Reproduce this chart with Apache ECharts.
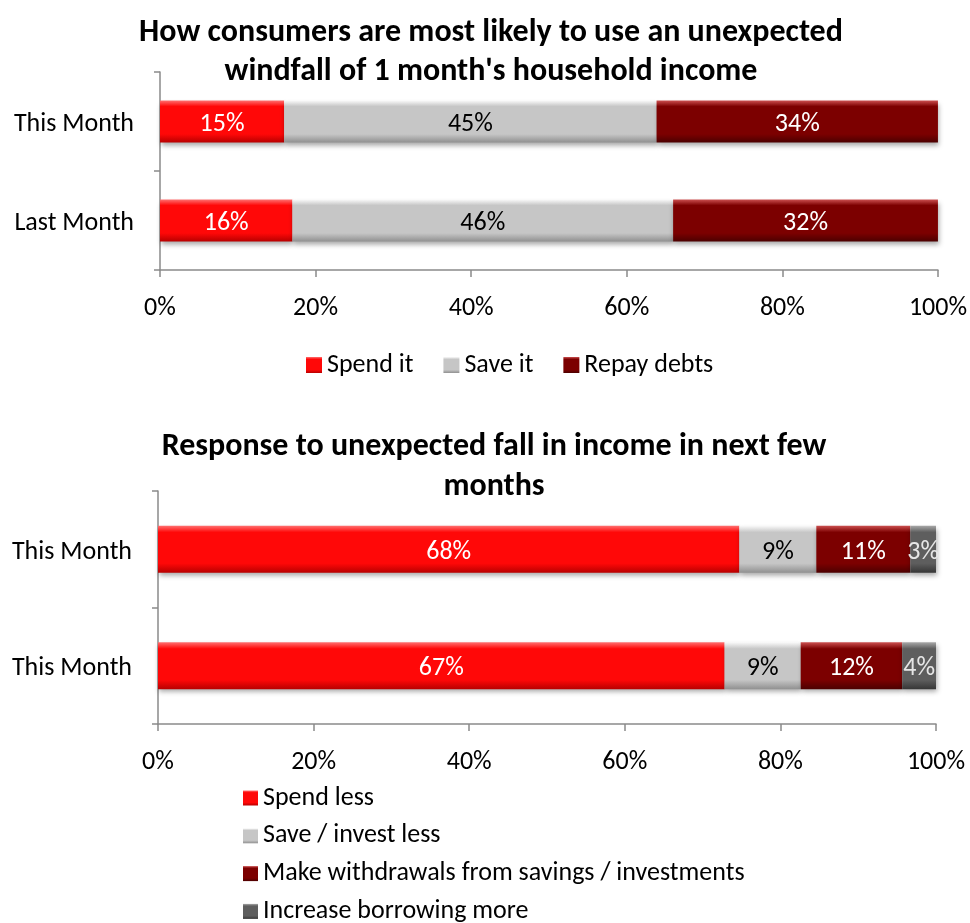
<!DOCTYPE html>
<html>
<head>
<meta charset="utf-8">
<script src="https://cdn.jsdelivr.net/npm/echarts@6/dist/echarts.min.js"></script>
<style>
  html, body { margin: 0; padding: 0; background: #fff; }
  #chart { width: 970px; height: 923px; }
</style>
</head>
<body>
<div id="chart"></div>
<script>
// Windfall usage (top panel)
const windfallRows = ['This Month', 'Last Month'];
const windfallNames = ['Spend it', 'Save it', 'Repay debts'];
const spendIt = [15, 16];
const saveIt = [45, 46];
const repayDebts = [34, 32];

// Response to a fall in income (bottom panel)
const fallRows = ['This Month', 'This Month'];
const fallNames = ['Spend less', 'Save / invest less', 'Make withdrawals from savings / investments', 'Increase borrowing more'];
const spendLess = [68, 67];
const saveLess = [9, 9];
const withdrawals = [11, 12];
const borrowMore = [3, 4];

const axisTicks = [0, 20, 40, 60, 80, 100];

const FONT = 'Carlito, Lato, "Open Sans", sans-serif';
const TEXT_SIZE = 26;

function grad(top, mid, bottom) {
  return new echarts.graphic.LinearGradient(0, 0, 0, 1, [
    { offset: 0, color: top },
    { offset: 0.14, color: mid },
    { offset: 0.8, color: mid },
    { offset: 1, color: bottom }
  ]);
}
const palette = {
  red: grad('#ff7070', '#ff0808', '#b80000'),
  gray: grad('#fafafa', '#c6c6c6', '#909090'),
  darkRed: grad('#cc5050', '#7c0000', '#4c0000'),
  darkGray: grad('#a8a8a8', '#5e5e5e', '#363636')
};

// Each segment's share of its row, so every bar fills 0–100%
function shares(seriesList) {
  const totals = seriesList[0].map((_, i) => seriesList.reduce((s, arr) => s + arr[i], 0));
  return seriesList.map(arr => arr.map((v, i) => ({ value: v / totals[i] * 100, raw: v })));
}

const topShares = shares([spendIt, saveIt, repayDebts]);
const bottomShares = shares([spendLess, saveLess, withdrawals, borrowMore]);

function barSeries(name, data, axisIdx, color, labelColor, width) {
  return {
    name: name,
    type: 'bar',
    stack: 'g' + axisIdx,
    xAxisIndex: axisIdx,
    yAxisIndex: axisIdx,
    barWidth: width,
    data: data,
    itemStyle: {
      color: color,
      shadowColor: 'rgba(0,0,0,0.35)',
      shadowBlur: 5,
      shadowOffsetY: 3,
      shadowOffsetX: 1
    },
    label: {
      show: true,
      position: 'inside',
      offset: [0, 3],
      color: labelColor,
      fontFamily: FONT,
      fontSize: TEXT_SIZE,
      formatter: p => p.data.raw + '%'
    },
    emphasis: { disabled: true }
  };
}

const axisLineStyle = { color: '#8a8a8a', width: 1.5 };

function valueAxis(gridIndex) {
  return {
    type: 'value',
    gridIndex: gridIndex,
    min: axisTicks[0],
    max: axisTicks[axisTicks.length - 1],
    interval: axisTicks[1] - axisTicks[0],
    axisLine: { show: true, lineStyle: axisLineStyle },
    axisTick: { show: true, length: 7, lineStyle: axisLineStyle },
    splitLine: { show: false },
    axisLabel: {
      color: '#000',
      fontFamily: FONT,
      fontSize: TEXT_SIZE,
      margin: 25,
      formatter: '{value}%'
    }
  };
}

function categoryAxis(gridIndex, rows) {
  return {
    type: 'category',
    gridIndex: gridIndex,
    data: rows,
    inverse: true,
    axisLine: { show: true, lineStyle: axisLineStyle },
    axisTick: { show: true, length: 6, lineStyle: axisLineStyle },
    axisLabel: {
      margin: 26,
      formatter: v => '{c|' + v + '}',
      rich: {
        c: { color: '#000', fontFamily: FONT, fontSize: TEXT_SIZE, padding: [6, 0, 0, 0] }
      }
    }
  };
}

const titleStyle = { fontFamily: FONT, fontSize: 32, fontWeight: 'bold', color: '#000' };
const legendText = { fontFamily: FONT, fontSize: TEXT_SIZE, color: '#000', lineHeight: 26 };

const chart = echarts.init(document.getElementById('chart'));
chart.setOption({
  backgroundColor: '#fff',
  animation: false,
  title: [
    {
      text: "How consumers are most likely to use an unexpected\nwindfall of 1 month's household income",
      left: 491, top: 13, textAlign: 'center', padding: 0,
      textStyle: Object.assign({ lineHeight: 39 }, titleStyle)
    },
    {
      text: 'Response to unexpected fall in income in next few\nmonths',
      left: 494, top: 427, textAlign: 'center', padding: 0,
      textStyle: Object.assign({ lineHeight: 40 }, titleStyle)
    }
  ],
  legend: [
    {
      data: windfallNames,
      left: 306, top: 352, padding: 0,
      itemWidth: 16, itemHeight: 16, itemGap: 30,
      icon: 'rect',
      textStyle: legendText
    },
    {
      data: fallNames,
      orient: 'vertical',
      left: 243, top: 785, padding: 0, height: 200,
      itemWidth: 15, itemHeight: 15, itemGap: 11.8,
      icon: 'rect',
      textStyle: legendText
    }
  ],
  grid: [
    { left: 160, right: 32, top: 72, height: 198 },
    { left: 158, right: 34, top: 491, height: 233 }
  ],
  xAxis: [valueAxis(0), valueAxis(1)],
  yAxis: [categoryAxis(0, windfallRows), categoryAxis(1, fallRows)],
  series: [
    barSeries(windfallNames[0], topShares[0], 0, palette.red, '#fff', 42),
    barSeries(windfallNames[1], topShares[1], 0, palette.gray, '#000', 42),
    barSeries(windfallNames[2], topShares[2], 0, palette.darkRed, '#fff', 42),
    barSeries(fallNames[0], bottomShares[0], 1, palette.red, '#fff', 47),
    barSeries(fallNames[1], bottomShares[1], 1, palette.gray, '#000', 47),
    barSeries(fallNames[2], bottomShares[2], 1, palette.darkRed, '#fff', 47),
    barSeries(fallNames[3], bottomShares[3], 1, palette.darkGray, '#e6e6e6', 47)
  ]
});
</script>
</body>
</html>
